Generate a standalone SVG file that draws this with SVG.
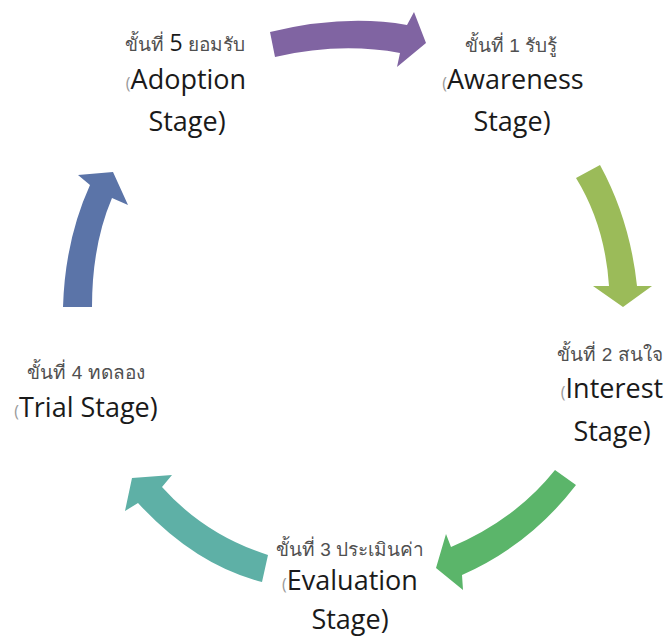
<svg xmlns="http://www.w3.org/2000/svg" width="671" height="639" viewBox="0 0 671 639">
<style>
.th{font-family:"Liberation Sans","DejaVu Sans","Noto Sans",sans-serif;font-size:19px;font-weight:normal;fill:#505050;text-anchor:middle}
.en{font-family:"Open Sans","Liberation Sans",sans-serif;font-size:27px;fill:#1a1a1a;text-anchor:middle}
.p{font-size:16px;fill:#999}
.num{font-family:"Open Sans","Liberation Sans",sans-serif;font-size:23px;fill:#1a1a1a}
</style>
<rect width="671" height="639" fill="#fff"/>
<g id="connectors">
<path d="M270,32 Q345,14 407,25 L414,12 L426,43 L397,67 L400,53 Q340,42 275,57 Z" fill="#8064A2"/>
<path d="M576,178 L600,165 Q630,220 637,286 L652,286 L623,307 L593,286 L609,286 Q605,225 576,178 Z" fill="#9BBB59"/>
<path d="M555,470 L576,485 Q530,545 462,575 L463,590 L436,568 L446,534 L451,547 Q515,520 555,470 Z" fill="#5BB56A"/>
<path d="M268,555 L262,582 Q195,565 138,503 L125,511 L132,478 L172,475 L162,487 Q205,535 268,555 Z" fill="#5EB0A6"/>
<path d="M63,307 L92,307 Q92,245 112,198 L128,205 L113,172 L78,175 L90,185 Q65,240 63,307 Z" fill="#5B74A8"/>
</g>
<g id="node5">
<text class="th" x="185" y="51">ขั้นที่ <tspan class="num">5</tspan> ยอมรับ</text>
<text class="en" x="186" y="89"><tspan class="p">(</tspan>Adoption</text>
<text class="en" x="187" y="131">Stage)</text>
</g>
<g id="node1">
<text class="th" x="511" y="52">ขั้นที่ 1 รับรู้</text>
<text class="en" x="513" y="89"><tspan class="p">(</tspan>Awareness</text>
<text class="en" x="512" y="131">Stage)</text>
</g>
<g id="node2">
<text class="th" x="610" y="361">ขั้นที่ 2 สนใจ</text>
<text class="en" x="612" y="398"><tspan class="p">(</tspan>Interest</text>
<text class="en" x="612" y="441">Stage)</text>
</g>
<g id="node3">
<text class="th" x="350" y="556">ขั้นที่ 3 ประเมินค่า</text>
<text class="en" x="350" y="590"><tspan class="p">(</tspan>Evaluation</text>
<text class="en" x="350" y="629">Stage)</text>
</g>
<g id="node4">
<text class="th" x="86" y="379">ขั้นที่ 4 ทดลอง</text>
<text class="en" x="86" y="417"><tspan class="p">(</tspan>Trial Stage)</text>
</g>
</svg>
